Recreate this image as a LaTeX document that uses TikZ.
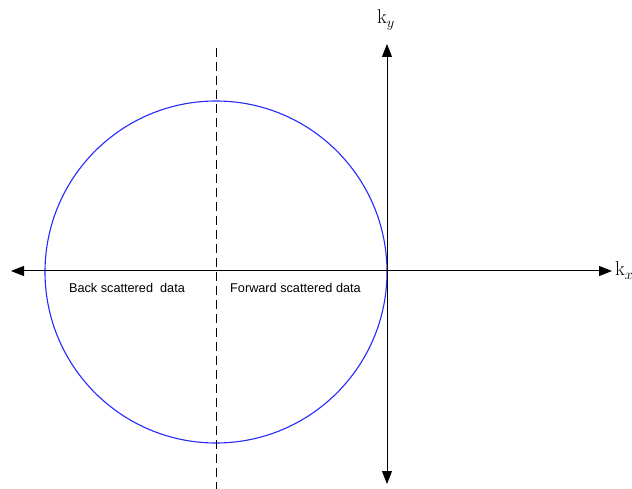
\documentclass[tikz,border=0pt]{standalone}
\usepackage{fontspec}
\usepackage{tikz}
\usetikzlibrary{arrows.meta, positioning}
\newfontfamily\datafont{Liberation Sans}
\definecolor{circleblue}{RGB}{40,40,255}

\begin{document}
\begin{tikzpicture}[
        x=1pt, y=-1pt,
        axis/.style={{Triangle[length=13pt,width=10pt]}-{Triangle[length=13pt,width=10pt]},
                     line width=1pt, color=black},
        halfline/.style={line width=1pt, dash pattern=on 9pt off 5pt},
        ewald/.style={line width=1.1pt, draw=circleblue},
        axislabel/.style={inner sep=0pt, anchor=base west, font=\fontsize{20}{20}\selectfont},
        datalabel/.style={inner sep=0pt, font=\datafont\fontsize{12.7}{13}\selectfont}
      ]
      \useasboundingbox (0,0) rectangle (632,489);

      % axes and centre
      \coordinate (o)  at (216,272);
      \coordinate (xl) at (11,271);
      \coordinate (xr) at (612,271);
      \coordinate (yt) at (387,44);
      \coordinate (yb) at (387,484);
      \coordinate (dt) at (216,48);
      \coordinate (db) at (216,489);

      \draw[ewald] (o) circle (171);
      \draw[halfline] (dt) -- (db);
      \draw[axis] (xl) -- (xr);
      \draw[axis] (yb) -- (yt);

      \node[axislabel] (kx) at (615,276) {k$_x$};
      \node[axislabel] (ky) at (377,24)  {k$_y$};

      \node[datalabel] (back) at (127,288) {Back scattered \ data};
      \node[datalabel, anchor=west] (fwd) at (230,288) {Forward scattered data};
    \end{tikzpicture}
\end{document}
